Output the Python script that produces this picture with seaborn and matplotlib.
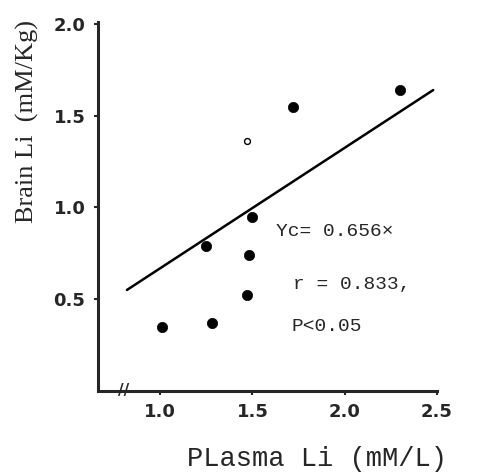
import numpy as np
import pandas as pd
import seaborn as sns
import matplotlib.pyplot as plt

# data
plasma_li = [1.01, 1.28, 1.25, 1.47, 1.48, 1.50, 1.72, 2.30, 1.47]
brain_li = [0.35, 0.37, 0.79, 0.52, 0.74, 0.95, 1.55, 1.64, 1.36]
marker_kind = ['filled'] * 8 + ['open']

# regression line Yc = 0.656x, endpoints as drawn
line_x = [0.82, 2.48]
line_y = [0.55, 1.64]

x_ticks = [1.0, 1.5, 2.0, 2.5]
y_ticks = [0.5, 1.0, 1.5, 2.0]

df = pd.DataFrame({'plasma': plasma_li, 'brain': brain_li, 'kind': marker_kind})
line_df = pd.DataFrame({'x': line_x, 'y': line_y})

sns.set_style('ticks')
plt.rcParams['font.family'] = ['Liberation Sans Narrow', 'DejaVu Sans']

fig = plt.figure(figsize=(4.78, 4.72), dpi=100)
ax = fig.add_axes([0.205, 0.172, 0.709, 0.781])

# regression line
sns.lineplot(data=line_df, x='x', y='y', color='black', linewidth=1.8, ax=ax)

# filled points
sns.scatterplot(data=df[df['kind'] == 'filled'], x='plasma', y='brain',
                color='black', s=55, edgecolor='black', linewidth=0.5, ax=ax, zorder=3)
# open point
sns.scatterplot(data=df[df['kind'] == 'open'], x='plasma', y='brain',
                facecolor='white', edgecolor='black', s=18, linewidth=1.0, ax=ax, zorder=3)

ax.set_xlim(0.663, 2.5)
ax.set_ylim(0.0, 2.01)
ax.set_xticks(x_ticks)
ax.set_xticklabels([f'{v:.1f}' for v in x_ticks])
ax.set_yticks(y_ticks)
ax.set_yticklabels([f'{v:.1f}' for v in y_ticks])
ax.tick_params(axis='both', direction='out', length=3, width=1.5, labelsize=13, pad=6)
for lab in ax.get_xticklabels() + ax.get_yticklabels():
    lab.set_fontweight('bold')

sns.despine(ax=ax)
for side in ['left', 'bottom']:
    ax.spines[side].set_linewidth(2.2)

# axis break mark
ax.text(0.80, 0.0, '//', ha='center', va='center', fontsize=11, fontweight='bold',
        family=['DejaVu Sans'])

# annotation
mono = ['Liberation Mono', 'DejaVu Sans Mono']
ax.text(1.63, 0.87, 'Yc= 0.656×', fontsize=14, family=mono, ha='left', va='center')
ax.text(1.72, 0.58, 'r = 0.833,', fontsize=14, family=mono, ha='left', va='center')
ax.text(1.71, 0.35, 'P<0.05', fontsize=14, family=mono, ha='left', va='center')

ax.set_xlabel('PLasma Li (mM/L)', fontsize=19.5, family=mono)
ax.xaxis.set_label_coords(0.646, -0.15)
ax.set_ylabel('Brain Li  (mM/Kg)', fontsize=19, family=['Liberation Serif', 'DejaVu Serif'])
ax.yaxis.set_label_coords(-0.175, 0.73)

plt.savefig('out.png', dpi=100)
